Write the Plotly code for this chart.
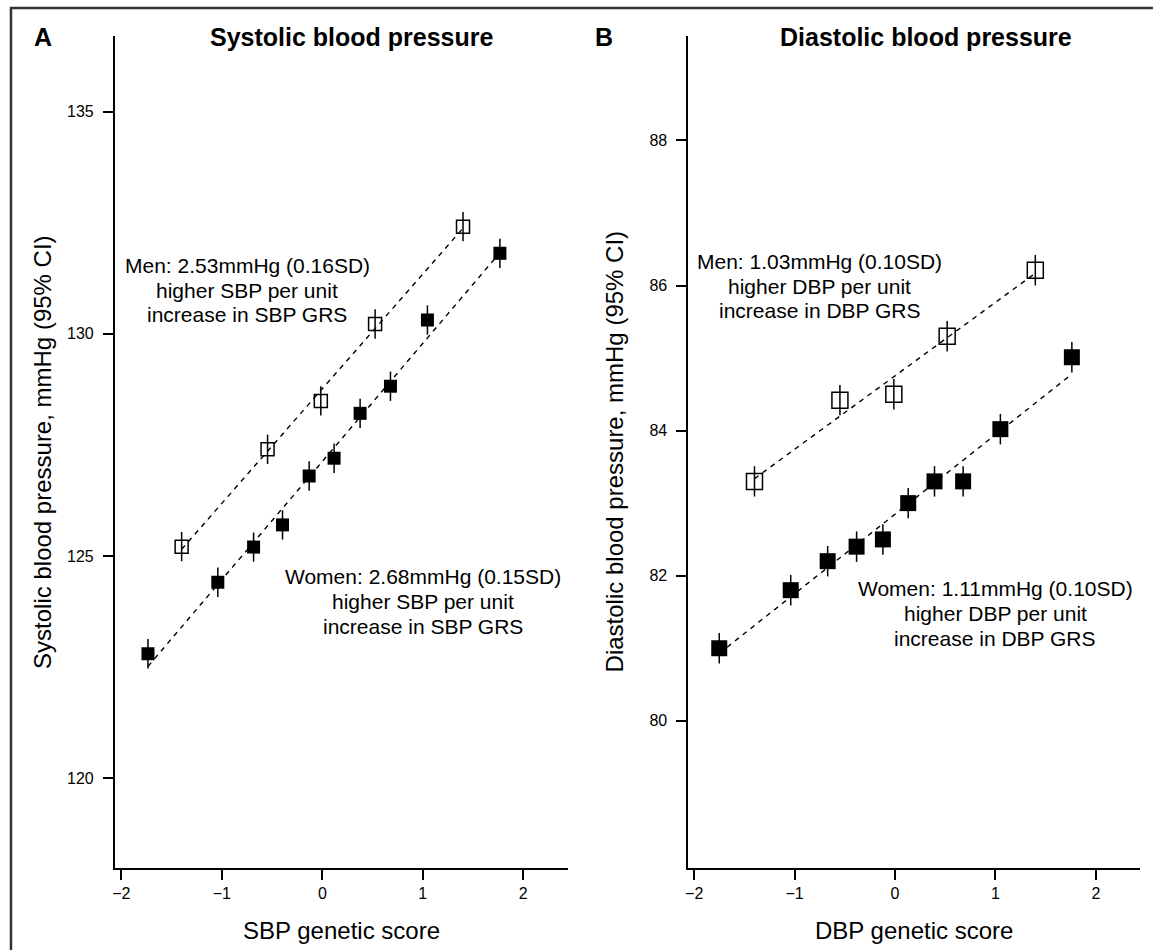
import numpy as np
import plotly.graph_objects as go

W, H = 1153, 950

# ---------------- data ----------------
sbp_men_x = [-1.40, -0.545, -0.015, 0.525, 1.40]
sbp_men_y = [125.21, 127.40, 128.49, 130.22, 132.41]
sbp_men_ci = [0.33, 0.33, 0.33, 0.33, 0.33]

sbp_women_x = [-1.735, -1.04, -0.684, -0.396, -0.131, 0.117, 0.376, 0.678, 1.046, 1.767]
sbp_women_y = [122.80, 124.41, 125.20, 125.70, 126.80, 127.20, 128.21, 128.82, 130.31, 131.81]
sbp_women_ci = [0.33, 0.33, 0.33, 0.33, 0.33, 0.33, 0.33, 0.33, 0.33, 0.33]

dbp_men_x = [-1.40, -0.549, -0.012, 0.519, 1.397]
dbp_men_y = [83.30, 84.42, 84.50, 85.30, 86.21]
dbp_men_ci = [0.21, 0.21, 0.21, 0.21, 0.21]

dbp_women_x = [-1.751, -1.039, -0.671, -0.383, -0.121, 0.131, 0.393, 0.678, 1.049, 1.761]
dbp_women_y = [81.00, 81.80, 82.20, 82.40, 82.50, 83.00, 83.30, 83.30, 84.02, 85.01]
dbp_women_ci = [0.21, 0.21, 0.21, 0.21, 0.21, 0.21, 0.21, 0.21, 0.21, 0.21]

x_ticks = [-2, -1, 0, 1, 2]
sbp_ticks = [120, 125, 130, 135]
dbp_ticks = [80, 82, 84, 86, 88]

sbp_men_text = ["Men: 2.53mmHg (0.16SD)", "higher SBP per unit", "increase in SBP GRS"]
sbp_women_text = ["Women: 2.68mmHg (0.15SD)", "higher SBP per unit", "increase in SBP GRS"]
dbp_men_text = ["Men: 1.03mmHg (0.10SD)", "higher DBP per unit", "increase in DBP GRS"]
dbp_women_text = ["Women: 1.11mmHg (0.10SD)", "higher DBP per unit", "increase in DBP GRS"]

FONT = "Liberation Sans, Arial, Helvetica, sans-serif"


def px(x):
    return x / W


def py(y):
    return 1 - y / H


fig = go.Figure()


def fit_line(xs, ys):
    xs = np.asarray(xs)
    ys = np.asarray(ys)
    b, a = np.polyfit(xs, ys, 1)
    xx = np.array([xs.min(), xs.max()])
    return xx, a + b * xx


def add_panel(xa, ya, men_x, men_y, men_ci, wom_x, wom_y, wom_ci, fsize, osize):
    for xs, ys in ((men_x, men_y), (wom_x, wom_y)):
        lx, ly = fit_line(xs, ys)
        fig.add_trace(go.Scatter(x=lx, y=ly, mode="lines", xaxis=xa, yaxis=ya,
                                 line=dict(color="black", width=1.4, dash="5px,5px"),
                                 hoverinfo="skip"))
    fig.add_trace(go.Scatter(x=wom_x, y=wom_y, mode="markers", xaxis=xa, yaxis=ya,
                             marker=dict(symbol="square", size=fsize, color="black",
                                         line=dict(width=0)),
                             error_y=dict(type="data", array=wom_ci, visible=True,
                                          thickness=1.5, width=0, color="black")))
    fig.add_trace(go.Scatter(x=men_x, y=men_y, mode="markers", xaxis=xa, yaxis=ya,
                             marker=dict(symbol="square-open", size=osize, color="black",
                                         line=dict(width=1.5, color="black")),
                             error_y=dict(type="data", array=men_ci, visible=True,
                                          thickness=1.5, width=0, color="black")))


add_panel("x", "y", sbp_men_x, sbp_men_y, sbp_men_ci,
          sbp_women_x, sbp_women_y, sbp_women_ci, 13, 13)
add_panel("x2", "y2", dbp_men_x, dbp_men_y, dbp_men_ci,
          dbp_women_x, dbp_women_y, dbp_women_ci, 16, 16)

axis_top, axis_bot = 36, 868
ydom = [py(axis_bot), py(axis_top)]

common_x = dict(showline=True, linecolor="black", linewidth=1.5, ticks="outside",
                ticklen=10, tickwidth=1.5, tickcolor="black", showgrid=False,
                zeroline=False, tickvals=x_ticks,
                tickfont=dict(family=FONT, size=16, color="black"))
common_y = dict(showline=True, linecolor="black", linewidth=1.5, ticks="outside",
                ticklen=10, tickwidth=1.5, tickcolor="black", showgrid=False,
                zeroline=False, ticklabelstandoff=6,
                tickfont=dict(family=FONT, size=16, color="black"))

fig.update_layout(
    width=W, height=H, margin=dict(l=0, r=0, t=0, b=0),
    paper_bgcolor="white", plot_bgcolor="white", showlegend=False,
    xaxis=dict(domain=[px(112), px(566)], range=[-2.066, 2.44], anchor="y", **common_x),
    yaxis=dict(domain=ydom, range=[117.98, 136.70], anchor="x", tickvals=sbp_ticks, **common_y),
    xaxis2=dict(domain=[px(687), px(1140)], range=[-2.06, 2.44], anchor="y2", **common_x),
    yaxis2=dict(domain=ydom, range=[77.97, 89.44], anchor="x2", tickvals=dbp_ticks, **common_y),
)

ann = []


def text(x, y, s, size, bold=False, angle=0):
    ann.append(dict(x=px(x), y=py(y), xref="paper", yref="paper",
                    text=f"<b>{s}</b>" if bold else s, showarrow=False,
                    xanchor="center", yanchor="middle", textangle=angle,
                    font=dict(family=FONT, size=size, color="black")))


def block(cx, cy, lines, size=21, gap=25):
    for i, s in enumerate(lines):
        text(cx, cy + (i - 1) * gap, s, size)


text(40, 37, "A", 25, bold=True)
text(350, 37, "Systolic blood pressure", 25, bold=True)
text(603, 37, "B", 25, bold=True)
text(925, 37, "Diastolic blood pressure", 25, bold=True)

text(39, 452, "Systolic blood pressure, mmHg (95% CI)", 24, angle=-90)
text(613, 452, "Diastolic blood pressure, mmHg (95% CI)", 24, angle=-90)

text(339, 930, "SBP genetic score", 24)
text(913, 930, "DBP genetic score", 24)

block(245, 290, sbp_men_text)
block(421, 601, sbp_women_text)
block(819, 286, dbp_men_text)
block(995, 613, dbp_women_text)

fig.update_layout(annotations=ann)

# outer frame (top and left edges visible; right/bottom cropped in the original)
fig.add_shape(type="line", xref="paper", yref="paper", layer="above",
              x0=px(7), x1=1, y0=py(8), y1=py(8),
              line=dict(color="#333333", width=2.5))
fig.add_shape(type="line", xref="paper", yref="paper", layer="above",
              x0=px(8), x1=px(8), y0=0, y1=py(7),
              line=dict(color="#333333", width=2.5))

fig.write_html("out.html", config={"displayModeBar": False},
               post_script="document.body.style.margin='0';document.body.style.overflow='hidden';")
